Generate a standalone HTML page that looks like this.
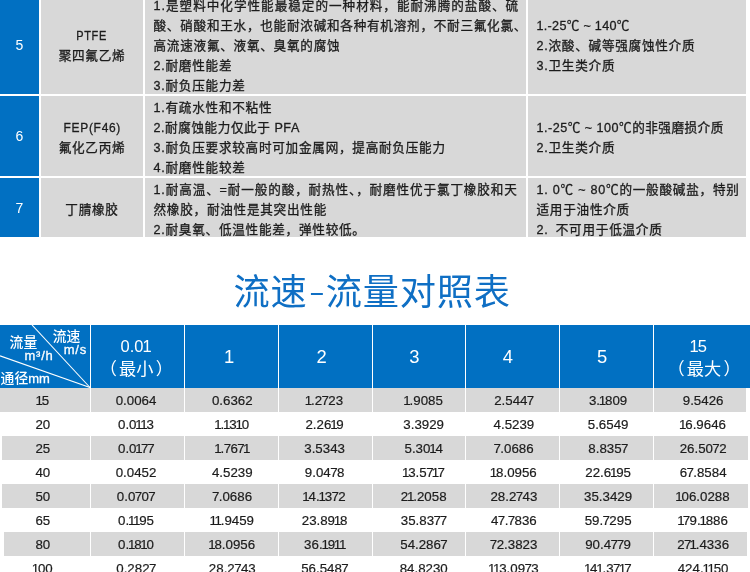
<!DOCTYPE html>
<html lang="zh-CN">
<head>
<meta charset="utf-8">
<title>流速-流量对照表</title>
<style>
html,body{margin:0;padding:0;background:#fff;}
body{width:750px;height:572px;position:relative;overflow:hidden;
 font-family:"Liberation Sans","Noto Sans CJK SC",sans-serif;color:#1c1c1c;}
.abs,.c,.t,.n,.h,.d,.r,.v{position:absolute;}
.c{background:#d8d8d8;}
.c.b{background:#0170c2;}
.t{font-size:12.6px;letter-spacing:.75px;font-weight:400;-webkit-text-stroke:.3px #1c1c1c;line-height:20px;height:20px;white-space:nowrap;left:153.5px;}
.t.k{left:536.5px;}
.t.m{text-align:center;left:41px;width:102px;}
.sx{display:inline-block;}
.n{color:#fff;font-size:14px;line-height:20px;left:0;width:39px;text-align:center;}
#title{position:absolute;left:-2.95px;width:750px;top:267px;height:52px;line-height:52px;margin:0;
 text-align:center;font-size:36.2px;font-weight:400;color:#0f6fc4;white-space:nowrap;letter-spacing:0.8px;}
#title .hy{display:inline-block;transform:translateY(-1.6px) scale(1.35,.72);transform-origin:50% 60%;margin:0 2.4px 0 3.1px;}
#hd{position:absolute;left:0;top:325px;width:750px;height:63px;background:#0170c2;}
.h{color:#fff;text-align:center;white-space:nowrap;width:94px;}
.h.big{font-size:18.4px;line-height:24px;top:19.5px;}
.h.two{font-size:16.5px;line-height:22px;}
.h.two b{font-weight:normal;margin:0 -1px;}
.h.cj{font-size:17.2px;line-height:24px;}
.h.cj span{margin:0 2.2px;}
.lab{position:absolute;color:#fff;font-weight:500;white-space:nowrap;font-size:13.8px;line-height:16px;}
.lab.e,.lab span{font-size:13px;letter-spacing:.7px;-webkit-text-stroke:.3px #fff;}
.lab span{letter-spacing:0;}
.r{left:1.5px;width:744.5px;height:23.4px;background:#d8d8d8;}
.v{width:1px;background:#fff;top:325px;height:247px;}
.d{-webkit-text-stroke:.2px #1c1c1c;font-size:13.3px;line-height:24px;height:24px;width:94px;text-align:center;white-space:nowrap;}
.d b{font-weight:normal;margin:0 -1.2px;}
.d i{font-style:normal;margin:0 -.6px;}
</style>
</head>
<body>
<div id="t1">
<div class="c b" style="left:0px;top:0px;width:39px;height:94px"></div>
<div class="c " style="left:41px;top:0px;width:102px;height:94px"></div>
<div class="c " style="left:145px;top:0px;width:381px;height:94px"></div>
<div class="c " style="left:528px;top:0px;width:218px;height:94px"></div>
<div class="c b" style="left:0px;top:96px;width:39px;height:79.5px"></div>
<div class="c " style="left:41px;top:96px;width:102px;height:79.5px"></div>
<div class="c " style="left:145px;top:96px;width:381px;height:79.5px"></div>
<div class="c " style="left:528px;top:96px;width:218px;height:79.5px"></div>
<div class="c b" style="left:0px;top:177.5px;width:39px;height:59.1px"></div>
<div class="c " style="left:41px;top:177.5px;width:102px;height:59.1px"></div>
<div class="c " style="left:145px;top:177.5px;width:381px;height:59.1px"></div>
<div class="c " style="left:528px;top:177.5px;width:218px;height:59.1px"></div>
<div class="n" style="top:34.5px">5</div>
<div class="t m" style="top:25.7px;"><span class="sx" style="transform:scaleX(.87)">PTFE</span></div>
<div class="t m" style="top:45.8px;">聚四氟乙烯</div>
<div class="t " style="top:-4px;letter-spacing:0.99px;">1.是塑料中化学性能最稳定的一种材料，能耐沸腾的盐酸、硫</div>
<div class="t " style="top:15.8px;">酸、硝酸和王水，也能耐浓碱和各种有机溶剂，不耐三氟化氯、</div>
<div class="t " style="top:36.2px;">高流速液氟、液氧、臭氧的腐蚀</div>
<div class="t " style="top:56.2px;">2.耐磨性能差</div>
<div class="t " style="top:75.9px;">3.耐负压能力差</div>
<div class="t k" style="top:15.7px;letter-spacing:0.3px;">1.-25℃ ~ 140℃</div>
<div class="t k" style="top:36px;">2.浓酸、碱等强腐蚀性介质</div>
<div class="t k" style="top:56.2px;">3.卫生类介质</div>
<div class="n" style="top:126px">6</div>
<div class="t m" style="top:117.9px;"><span class="sx" style="transform:scaleX(.95)">FEP(F46)</span></div>
<div class="t m" style="top:138px;">氟化乙丙烯</div>
<div class="t " style="top:97.9px;">1.有疏水性和不粘性</div>
<div class="t " style="top:117.9px;letter-spacing:0.56px;">2.耐腐蚀能力仅此于 PFA</div>
<div class="t " style="top:137.9px;">3.耐负压要求较高时可加金属网，提高耐负压能力</div>
<div class="t " style="top:157.9px;">4.耐磨性能较差</div>
<div class="t k" style="top:117.9px;letter-spacing:0.49px;">1.-25℃ ~ 100℃的非强磨损介质</div>
<div class="t k" style="top:138.2px;">2.卫生类介质</div>
<div class="n" style="top:198px">7</div>
<div class="t m" style="top:199.5px;">丁腈橡胶</div>
<div class="t " style="top:179.7px;letter-spacing:0.87px;">1.耐高温、=耐一般的酸，耐热性、，耐磨性优于氯丁橡胶和天</div>
<div class="t " style="top:199.5px;">然橡胶，耐油性是其突出性能</div>
<div class="t " style="top:219.5px;">2.耐臭氧、低温性能差，弹性较低。</div>
<div class="t k" style="top:179.6px;letter-spacing:0.76px;">1. 0℃ ~ 80℃的一般酸碱盐，特别</div>
<div class="t k" style="top:199.7px;">适用于油性介质</div>
<div class="t k" style="top:219.8px;word-spacing:3px;">2. 不可用于低温介质</div>
</div>
<h1 id="title">流速<span class="hy">-</span>流量对照表</h1>
<div id="t2">
<div id="hd"></div>
<div class="r" style="top:388px;left:0px;width:746px;height:23.8px"></div>
<div class="r" style="top:435.8px;left:1.5px;width:746px;height:24px"></div>
<div class="r" style="top:483.8px;left:1.5px;width:746.5px;height:24px"></div>
<div class="r" style="top:531.8px;left:3.5px;width:743.5px;height:24px"></div>
<div class="v" style="left:90px"></div>
<div class="v" style="left:184px"></div>
<div class="v" style="left:278px"></div>
<div class="v" style="left:372px"></div>
<div class="v" style="left:465px"></div>
<div class="v" style="left:559px"></div>
<div class="v" style="left:653px"></div>
<svg class="abs" style="left:0;top:325px" width="91" height="63" viewBox="0 0 91 63">
<line x1="32" y1="0" x2="90" y2="62.5" stroke="#fff" stroke-width="1.1"/>
<line x1="0" y1="30.8" x2="90" y2="62.5" stroke="#fff" stroke-width="1.1"/>
</svg>
<div class="lab" style="left:9.6px;top:335.2px">流量</div>
<div class="lab e" style="left:24.6px;top:348px">m³/h</div>
<div class="lab" style="left:52.8px;top:329.3px">流速</div>
<div class="lab e" style="left:63.8px;top:342.2px">m/s</div>
<div class="lab" style="left:0.6px;top:370.5px">通径<span>mm</span></div>
<div class="h two" style="left:88.6px;top:334.6px">0.0<b>1</b></div>
<div class="h cj" style="left:89.3px;top:357.4px">（<span>最小</span>）</div>
<div class="h big" style="left:182px;top:345.2px">1</div>
<div class="h big" style="left:274.5px;top:345.2px">2</div>
<div class="h big" style="left:367.4px;top:345.2px">3</div>
<div class="h big" style="left:460.9px;top:345.2px">4</div>
<div class="h big" style="left:555px;top:345.2px">5</div>
<div class="h two" style="left:651.8px;top:334.6px"><b>1</b>5</div>
<div class="h cj" style="left:657px;top:357.4px">（<span>最大</span>）</div>
<div class="d" style="left:-4.2px;top:388.7px"><b>1</b>5</div>
<div class="d" style="left:89.0px;top:388.7px">0.0064</div>
<div class="d" style="left:185.3px;top:388.7px">0.6362</div>
<div class="d" style="left:277.6px;top:388.7px"><b>1</b>.2<i>7</i>23</div>
<div class="d" style="left:376.7px;top:388.7px"><b>1</b>.9085</div>
<div class="d" style="left:466.9px;top:388.7px">2.544<i>7</i></div>
<div class="d" style="left:561.1px;top:388.7px">3.<b>1</b>809</div>
<div class="d" style="left:656.1px;top:388.7px">9.5426</div>
<div class="d" style="left:-4.2px;top:412.7px">20</div>
<div class="d" style="left:89.0px;top:412.7px">0.0<b>1</b><b>1</b>3</div>
<div class="d" style="left:185.3px;top:412.7px"><b>1</b>.<b>1</b>3<b>1</b>0</div>
<div class="d" style="left:277.6px;top:412.7px">2.26<b>1</b>9</div>
<div class="d" style="left:376.7px;top:412.7px">3.3929</div>
<div class="d" style="left:466.9px;top:412.7px">4.5239</div>
<div class="d" style="left:561.1px;top:412.7px">5.6549</div>
<div class="d" style="left:656.1px;top:412.7px"><b>1</b>6.9646</div>
<div class="d" style="left:-4.2px;top:436.7px">25</div>
<div class="d" style="left:89.0px;top:436.7px">0.0<b>1</b><i>7</i><i>7</i></div>
<div class="d" style="left:185.3px;top:436.7px"><b>1</b>.<i>7</i>6<i>7</i><b>1</b></div>
<div class="d" style="left:277.6px;top:436.7px">3.5343</div>
<div class="d" style="left:376.7px;top:436.7px">5.30<b>1</b>4</div>
<div class="d" style="left:466.9px;top:436.7px"><i>7</i>.0686</div>
<div class="d" style="left:561.1px;top:436.7px">8.835<i>7</i></div>
<div class="d" style="left:656.1px;top:436.7px">26.50<i>7</i>2</div>
<div class="d" style="left:-4.2px;top:460.7px">40</div>
<div class="d" style="left:89.0px;top:460.7px">0.0452</div>
<div class="d" style="left:185.3px;top:460.7px">4.5239</div>
<div class="d" style="left:277.6px;top:460.7px">9.04<i>7</i>8</div>
<div class="d" style="left:376.7px;top:460.7px"><b>1</b>3.5<i>7</i><b>1</b><i>7</i></div>
<div class="d" style="left:466.9px;top:460.7px"><b>1</b>8.0956</div>
<div class="d" style="left:561.1px;top:460.7px">22.6<b>1</b>95</div>
<div class="d" style="left:656.1px;top:460.7px">6<i>7</i>.8584</div>
<div class="d" style="left:-4.2px;top:484.7px">50</div>
<div class="d" style="left:89.0px;top:484.7px">0.0<i>7</i>0<i>7</i></div>
<div class="d" style="left:185.3px;top:484.7px"><i>7</i>.0686</div>
<div class="d" style="left:277.6px;top:484.7px"><b>1</b>4.<b>1</b>3<i>7</i>2</div>
<div class="d" style="left:376.7px;top:484.7px">2<b>1</b>.2058</div>
<div class="d" style="left:466.9px;top:484.7px">28.2<i>7</i>43</div>
<div class="d" style="left:561.1px;top:484.7px">35.3429</div>
<div class="d" style="left:656.1px;top:484.7px"><b>1</b>06.0288</div>
<div class="d" style="left:-4.2px;top:508.7px">65</div>
<div class="d" style="left:89.0px;top:508.7px">0.<b>1</b><b>1</b>95</div>
<div class="d" style="left:185.3px;top:508.7px"><b>1</b><b>1</b>.9459</div>
<div class="d" style="left:277.6px;top:508.7px">23.89<b>1</b>8</div>
<div class="d" style="left:376.7px;top:508.7px">35.83<i>7</i><i>7</i></div>
<div class="d" style="left:466.9px;top:508.7px">4<i>7</i>.<i>7</i>836</div>
<div class="d" style="left:561.1px;top:508.7px">59.<i>7</i>295</div>
<div class="d" style="left:656.1px;top:508.7px"><b>1</b><i>7</i>9.<b>1</b>886</div>
<div class="d" style="left:-4.2px;top:532.7px">80</div>
<div class="d" style="left:89.0px;top:532.7px">0.<b>1</b>8<b>1</b>0</div>
<div class="d" style="left:185.3px;top:532.7px"><b>1</b>8.0956</div>
<div class="d" style="left:277.6px;top:532.7px">36.<b>1</b>9<b>1</b><b>1</b></div>
<div class="d" style="left:376.7px;top:532.7px">54.286<i>7</i></div>
<div class="d" style="left:466.9px;top:532.7px"><i>7</i>2.3823</div>
<div class="d" style="left:561.1px;top:532.7px">90.4<i>7</i><i>7</i>9</div>
<div class="d" style="left:656.1px;top:532.7px">2<i>7</i><b>1</b>.4336</div>
<div class="d" style="left:-4.2px;top:556.7px"><b>1</b>00</div>
<div class="d" style="left:89.0px;top:556.7px">0.282<i>7</i></div>
<div class="d" style="left:185.3px;top:556.7px">28.2<i>7</i>43</div>
<div class="d" style="left:277.6px;top:556.7px">56.548<i>7</i></div>
<div class="d" style="left:376.7px;top:556.7px">84.8230</div>
<div class="d" style="left:466.9px;top:556.7px"><b>1</b><b>1</b>3.09<i>7</i>3</div>
<div class="d" style="left:561.1px;top:556.7px"><b>1</b>4<b>1</b>.3<i>7</i><b>1</b><i>7</i></div>
<div class="d" style="left:656.1px;top:556.7px">424.<b>1</b><b>1</b>50</div>
</div>
</body>
</html>
